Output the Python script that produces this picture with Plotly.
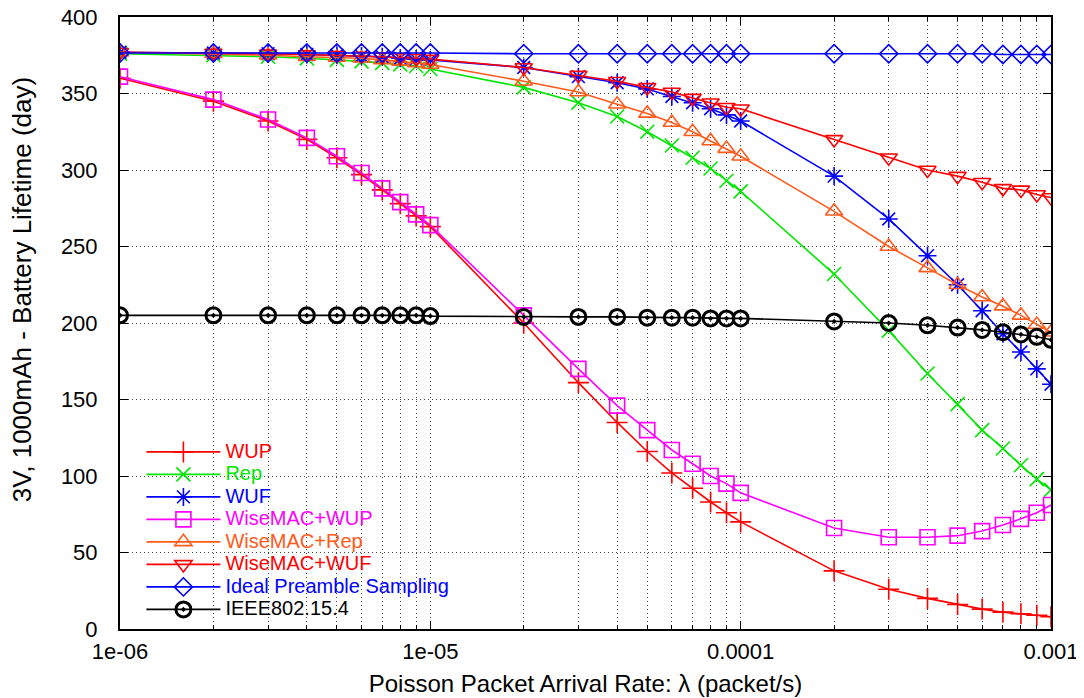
import plotly.graph_objects as go

# ---- data ----
arrival_rate = [1e-6, 2e-6, 3e-6, 4e-6, 5e-6, 6e-6, 7e-6, 8e-6, 9e-6,
                1e-5, 2e-5, 3e-5, 4e-5, 5e-5, 6e-5, 7e-5, 8e-5, 9e-5,
                1e-4, 2e-4, 3e-4, 4e-4, 5e-4, 6e-4, 7e-4, 8e-4, 9e-4, 1e-3]

wup = [360, 345, 332, 320, 308, 297, 287, 278, 270,
       263, 200, 161, 135, 116, 102, 92, 83, 76,
       70, 38, 26, 20, 16, 13, 11, 10, 9, 8]
rep = [376, 375, 374, 373, 372, 371, 370, 369, 368,
       366, 354, 344, 335, 325, 316, 308, 301, 293,
       286, 232, 195, 167, 147, 130, 118, 107, 98, 91]
wuf = [377, 376.5, 376, 375.5, 375, 374.5, 374, 373, 372.5,
       372, 367, 361, 357, 353, 348, 344, 340, 336,
       332, 296, 268, 244, 225, 208, 193, 181, 170, 160]
wisemac_wup = [361, 346, 333, 321, 309, 298, 288, 279, 271,
               264, 205, 170, 146, 130, 117, 108, 100, 95,
               89, 66, 60, 60, 61, 64, 68, 72, 76, 81]
wisemac_rep = [377, 376, 375, 374, 373.5, 373, 372, 371, 370,
               369, 358, 351, 343, 337, 331, 325, 319, 314,
               309, 273, 250, 236, 225, 217, 211, 205, 199, 194]
wisemac_wuf = [377, 376.5, 376, 375.5, 375, 374.5, 374, 373.5, 373,
               372.5, 367, 362, 358, 354, 351, 347, 344, 341,
               340, 320, 308, 300, 296, 292, 288, 287, 284, 282]
ideal_ps = [376.5, 376.5, 376.5, 376.5, 376.5, 376.5, 376.5, 376.5, 376.5,
            376.5, 376, 376, 376, 376, 376, 376, 376, 376,
            376, 376, 376, 376, 376, 376, 375.5, 375.5, 375.5, 375.5]
ieee = [205, 205, 205, 205, 205, 205, 205, 205, 205,
        204.5, 204, 204, 204, 203.5, 203.5, 203.5, 203, 203,
        203, 201, 200, 198.5, 197, 195.5, 194, 192.5, 191, 189]

series_names = ["WUP", "Rep", "WUF", "WiseMAC+WUP", "WiseMAC+Rep",
                "WiseMAC+WUF", "Ideal Preamble Sampling", "IEEE802.15.4"]
series_values = [wup, rep, wuf, wisemac_wup, wisemac_rep, wisemac_wuf, ideal_ps, ieee]
series_colors = ["#ff0000", "#00e600", "#0000ff", "#ff00ff", "#ff5a1a",
                 "#ff0000", "#0000ff", "#000000"]
series_symbols = ["cross-thin", "x-thin", "asterisk", "square-open", "triangle-up-open",
                  "triangle-down-open", "diamond-open", "circle-open-dot"]
marker_sizes = [15, 14, 15, 15, 15, 15, 14, 15]
marker_widths = [1.6, 1.6, 1.6, 1.6, 1.6, 1.6, 1.6, 3]

major_ticks = [1e-6, 1e-5, 1e-4, 1e-3]
major_labels = ["1e-06", "1e-05", "0.0001", "0.001"]
minor_ticks = [m * d for d in (1e-6, 1e-5, 1e-4) for m in range(2, 10)]

FONT = "Liberation Sans, Arial, Helvetica, sans-serif"

fig = go.Figure()
for name, vals, col, sym, ms, mw in zip(series_names, series_values, series_colors,
                                         series_symbols, marker_sizes, marker_widths):
    fig.add_trace(go.Scatter(
        x=arrival_rate, y=vals, mode="lines+markers",
        name=f'<span style="color:{col};font-size:20px">{name}</span>',
        line=dict(color=col, width=1.6),
        marker=dict(symbol=sym, size=ms, color=col,
                    line=dict(color=col, width=mw)),
    ))

grid_dash = "1px,3px"
fig.update_xaxes(
    type="log", range=[-6, -3], automargin=False,
    tickvals=major_ticks, ticktext=major_labels,
    ticks="inside", ticklen=8, tickwidth=1, tickcolor="black",
    showline=True, linecolor="black", linewidth=2, mirror="ticks",
    showgrid=True, gridcolor="#444444", gridwidth=1, griddash=grid_dash,
    minor=dict(tickvals=minor_ticks, ticks="inside", ticklen=4, tickcolor="black",
               showgrid=True, gridcolor="#444444", gridwidth=1, griddash=grid_dash),
    tickfont=dict(size=22, color="black", family=FONT),
    ticklabelstandoff=2, ticklabeloverflow="allow",
    title=dict(text="Poisson Packet Arrival Rate: λ (packet/s)",
               font=dict(size=24, color="black", family=FONT), standoff=12),
    zeroline=False,
)
fig.update_yaxes(
    range=[0, 400], dtick=50, automargin=False,
    ticks="inside", ticklen=8, tickwidth=1, tickcolor="black",
    showline=True, linecolor="black", linewidth=2, mirror="ticks",
    showgrid=True, gridcolor="#444444", gridwidth=1, griddash=grid_dash,
    tickfont=dict(size=22, color="black", family=FONT),
    ticklabelstandoff=16, ticklabeloverflow="allow",
    zeroline=False,
)

# y-axis title placed as in the reference (slightly above the plot centre)
fig.add_annotation(text="3V, 1000mAh - Battery Lifetime (day)",
                   xref="paper", yref="paper", x=-0.105, y=0.554,
                   xanchor="center", yanchor="middle", textangle=-90,
                   showarrow=False, font=dict(size=26, color="black", family=FONT))

# opaque key area (gnuplot key box hides the grid beneath it)
fig.add_shape(type="rect", xref="paper", yref="paper",
              x0=0.002, x1=0.481, y0=0.003, y1=0.309,
              fillcolor="white", line=dict(width=0), layer="between")

# the page body has an 8px margin, so the figure is sized/margined to land
# the plot frame where the reference has it
fig.update_layout(
    width=1076, height=690,
    margin=dict(l=112, r=33, t=9, b=69),
    paper_bgcolor="white", plot_bgcolor="white",
    font=dict(family=FONT, color="black"),
    showlegend=True,
    legend=dict(x=0.023, y=0.0055, xanchor="left", yanchor="bottom",
                bgcolor="rgba(0,0,0,0)", borderwidth=0,
                font=dict(size=15, family=FONT, color="black"),
                itemwidth=74, tracegroupgap=0),
)

fig.write_html("out.html")
